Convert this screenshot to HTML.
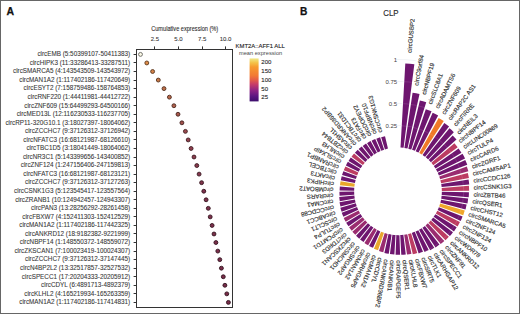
<!DOCTYPE html>
<html><head><meta charset="utf-8"><style>
html,body{margin:0;padding:0;background:#fff;}
body{width:520px;height:314px;overflow:hidden;}
svg{display:block;}
text{font-family:"Liberation Sans", sans-serif;}
</style></head><body>
<svg width="520" height="314" viewBox="0 0 520 314">
<rect x="0" y="0" width="520" height="314" fill="#fff"/>

<text x="6.5" y="14.6" font-size="10.5" font-weight="bold" fill="#111" stroke="#111" stroke-width="0.25">A</text>
<text x="0" y="0" font-size="7.5" fill="#2a2a2a" stroke="#2a2a2a" stroke-width="0.1" text-anchor="middle" transform="translate(184.7 31.4) scale(0.75 1)">Cumulative expression (%)</text>
<text x="154.80" y="41.3" font-size="6" fill="#333" stroke="#333" stroke-width="0.08" text-anchor="middle">2.5</text>
<line x1="154.50" y1="46.4" x2="154.50" y2="49.2" stroke="#333" stroke-width="1"/>
<text x="178.50" y="41.3" font-size="6" fill="#333" stroke="#333" stroke-width="0.08" text-anchor="middle">5.0</text>
<line x1="178.50" y1="46.4" x2="178.50" y2="49.2" stroke="#333" stroke-width="1"/>
<text x="202.10" y="41.3" font-size="6" fill="#333" stroke="#333" stroke-width="0.08" text-anchor="middle">7.5</text>
<line x1="202.50" y1="46.4" x2="202.50" y2="49.2" stroke="#333" stroke-width="1"/>
<text x="225.50" y="41.3" font-size="6" fill="#333" stroke="#333" stroke-width="0.08" text-anchor="middle">10.0</text>
<line x1="225.50" y1="46.4" x2="225.50" y2="49.2" stroke="#333" stroke-width="1"/>
<rect x="136.5" y="49.5" width="96" height="258" fill="none" stroke="#333" stroke-width="1"/>
<text x="130.2" y="56.20" font-size="6.33" fill="#363636" stroke="#363636" stroke-width="0.07" text-anchor="end">circEMB (5:50399107-50411383)</text>
<line x1="133.6" y1="54.50" x2="136.2" y2="54.50" stroke="#333" stroke-width="1"/>
<circle cx="140.50" cy="54.40" r="1.95" fill="#faf8e6" stroke="#646460" stroke-width="0.9"/>
<text x="130.2" y="64.75" font-size="6.33" fill="#363636" stroke="#363636" stroke-width="0.07" text-anchor="end">circHIPK3 (11:33286413-33287511)</text>
<line x1="133.6" y1="62.50" x2="136.2" y2="62.50" stroke="#333" stroke-width="1"/>
<circle cx="146.80" cy="62.95" r="1.95" fill="#de8c48" stroke="#5d3a1e" stroke-width="0.9"/>
<text x="130.2" y="73.30" font-size="6.33" fill="#363636" stroke="#363636" stroke-width="0.07" text-anchor="end">circSMARCA5 (4:143543509-143543972)</text>
<line x1="133.6" y1="71.50" x2="136.2" y2="71.50" stroke="#333" stroke-width="1"/>
<circle cx="152.60" cy="71.50" r="1.95" fill="#d38248" stroke="#58361e" stroke-width="0.9"/>
<text x="130.2" y="81.86" font-size="6.33" fill="#363636" stroke="#363636" stroke-width="0.07" text-anchor="end">circMAN1A2 (1:117402186-117420649)</text>
<line x1="133.6" y1="80.50" x2="136.2" y2="80.50" stroke="#333" stroke-width="1"/>
<circle cx="158.30" cy="80.06" r="1.95" fill="#c87848" stroke="#54321e" stroke-width="0.9"/>
<text x="130.2" y="90.41" font-size="6.33" fill="#363636" stroke="#363636" stroke-width="0.07" text-anchor="end">circESYT2 (7:158759486-158764853)</text>
<line x1="133.6" y1="88.50" x2="136.2" y2="88.50" stroke="#333" stroke-width="1"/>
<circle cx="164.00" cy="88.61" r="1.95" fill="#c07049" stroke="#502f1e" stroke-width="0.9"/>
<text x="130.2" y="98.96" font-size="6.33" fill="#363636" stroke="#363636" stroke-width="0.07" text-anchor="end">circRNF220 (1:44411981-44412722)</text>
<line x1="133.6" y1="97.50" x2="136.2" y2="97.50" stroke="#333" stroke-width="1"/>
<circle cx="169.40" cy="97.16" r="1.95" fill="#b8684b" stroke="#4d2b1f" stroke-width="0.9"/>
<text x="130.2" y="107.51" font-size="6.33" fill="#363636" stroke="#363636" stroke-width="0.07" text-anchor="end">circZNF609 (15:64499293-64500166)</text>
<line x1="133.6" y1="105.50" x2="136.2" y2="105.50" stroke="#333" stroke-width="1"/>
<circle cx="173.90" cy="105.71" r="1.95" fill="#b0604c" stroke="#49281f" stroke-width="0.9"/>
<text x="130.2" y="116.06" font-size="6.33" fill="#363636" stroke="#363636" stroke-width="0.07" text-anchor="end">circMED13L (12:116230533-116237705)</text>
<line x1="133.6" y1="114.50" x2="136.2" y2="114.50" stroke="#333" stroke-width="1"/>
<circle cx="178.00" cy="114.26" r="1.95" fill="#a8584c" stroke="#46241f" stroke-width="0.9"/>
<text x="130.2" y="124.61" font-size="6.33" fill="#363636" stroke="#363636" stroke-width="0.07" text-anchor="end">circRP11-320G10.1 (3:18027397-18064062)</text>
<line x1="133.6" y1="122.50" x2="136.2" y2="122.50" stroke="#333" stroke-width="1"/>
<circle cx="181.90" cy="122.81" r="1.95" fill="#a1514d" stroke="#432220" stroke-width="0.9"/>
<text x="130.2" y="133.17" font-size="6.33" fill="#363636" stroke="#363636" stroke-width="0.07" text-anchor="end">circZCCHC7 (9:37126312-37126942)</text>
<line x1="133.6" y1="131.50" x2="136.2" y2="131.50" stroke="#333" stroke-width="1"/>
<circle cx="185.40" cy="131.37" r="1.95" fill="#9a4a4e" stroke="#401f20" stroke-width="0.9"/>
<text x="130.2" y="141.72" font-size="6.33" fill="#363636" stroke="#363636" stroke-width="0.07" text-anchor="end">circNFATC3 (16:68121987-68126610)</text>
<line x1="133.6" y1="139.50" x2="136.2" y2="139.50" stroke="#333" stroke-width="1"/>
<circle cx="188.20" cy="139.92" r="1.95" fill="#92424e" stroke="#3d1b20" stroke-width="0.9"/>
<text x="130.2" y="150.27" font-size="6.33" fill="#363636" stroke="#363636" stroke-width="0.07" text-anchor="end">circTBC1D5 (3:18041449-18064062)</text>
<line x1="133.6" y1="148.50" x2="136.2" y2="148.50" stroke="#333" stroke-width="1"/>
<circle cx="191.10" cy="148.47" r="1.95" fill="#8f3f4e" stroke="#3c1a20" stroke-width="0.9"/>
<text x="130.2" y="158.82" font-size="6.33" fill="#363636" stroke="#363636" stroke-width="0.07" text-anchor="end">circNR3C1 (5:143399656-143400852)</text>
<line x1="133.6" y1="157.50" x2="136.2" y2="157.50" stroke="#333" stroke-width="1"/>
<circle cx="194.00" cy="157.02" r="1.95" fill="#8b3d4d" stroke="#3a1920" stroke-width="0.9"/>
<text x="130.2" y="167.37" font-size="6.33" fill="#363636" stroke="#363636" stroke-width="0.07" text-anchor="end">circZNF124 (1:247156406-247159813)</text>
<line x1="133.6" y1="165.50" x2="136.2" y2="165.50" stroke="#333" stroke-width="1"/>
<circle cx="196.80" cy="165.57" r="1.95" fill="#883a4d" stroke="#391820" stroke-width="0.9"/>
<text x="130.2" y="175.92" font-size="6.33" fill="#363636" stroke="#363636" stroke-width="0.07" text-anchor="end">circNFATC3 (16:68121987-68123121)</text>
<line x1="133.6" y1="174.50" x2="136.2" y2="174.50" stroke="#333" stroke-width="1"/>
<circle cx="199.10" cy="174.12" r="1.95" fill="#85374d" stroke="#371720" stroke-width="0.9"/>
<text x="130.2" y="184.48" font-size="6.33" fill="#363636" stroke="#363636" stroke-width="0.07" text-anchor="end">circZCCHC7 (9:37126312-37127263)</text>
<line x1="133.6" y1="182.50" x2="136.2" y2="182.50" stroke="#333" stroke-width="1"/>
<circle cx="201.60" cy="182.68" r="1.95" fill="#81354c" stroke="#36161f" stroke-width="0.9"/>
<text x="130.2" y="193.03" font-size="6.33" fill="#363636" stroke="#363636" stroke-width="0.07" text-anchor="end">circCSNK1G3 (5:123545417-123557564)</text>
<line x1="133.6" y1="191.50" x2="136.2" y2="191.50" stroke="#333" stroke-width="1"/>
<circle cx="203.80" cy="191.23" r="1.95" fill="#7e324c" stroke="#34151f" stroke-width="0.9"/>
<text x="130.2" y="201.58" font-size="6.33" fill="#363636" stroke="#363636" stroke-width="0.07" text-anchor="end">circZRANB1 (10:124942457-124943307)</text>
<line x1="133.6" y1="199.50" x2="136.2" y2="199.50" stroke="#333" stroke-width="1"/>
<circle cx="206.10" cy="199.78" r="1.95" fill="#7d324c" stroke="#34151f" stroke-width="0.9"/>
<text x="130.2" y="210.13" font-size="6.33" fill="#363636" stroke="#363636" stroke-width="0.07" text-anchor="end">circPAN3 (13:28256292-28261458)</text>
<line x1="133.6" y1="208.50" x2="136.2" y2="208.50" stroke="#333" stroke-width="1"/>
<circle cx="208.30" cy="208.33" r="1.95" fill="#7d314b" stroke="#34141f" stroke-width="0.9"/>
<text x="130.2" y="218.68" font-size="6.33" fill="#363636" stroke="#363636" stroke-width="0.07" text-anchor="end">circFBXW7 (4:152411303-152412529)</text>
<line x1="133.6" y1="216.50" x2="136.2" y2="216.50" stroke="#333" stroke-width="1"/>
<circle cx="210.20" cy="216.88" r="1.95" fill="#7c314b" stroke="#34141f" stroke-width="0.9"/>
<text x="130.2" y="227.23" font-size="6.33" fill="#363636" stroke="#363636" stroke-width="0.07" text-anchor="end">circMAN1A2 (1:117402186-117442325)</text>
<line x1="133.6" y1="225.50" x2="136.2" y2="225.50" stroke="#333" stroke-width="1"/>
<circle cx="212.10" cy="225.43" r="1.95" fill="#7c304b" stroke="#34141f" stroke-width="0.9"/>
<text x="130.2" y="235.79" font-size="6.33" fill="#363636" stroke="#363636" stroke-width="0.07" text-anchor="end">circANKRD12 (18:9182382-9221999)</text>
<line x1="133.6" y1="233.50" x2="136.2" y2="233.50" stroke="#333" stroke-width="1"/>
<circle cx="214.00" cy="233.99" r="1.95" fill="#7b304a" stroke="#33141f" stroke-width="0.9"/>
<text x="130.2" y="244.34" font-size="6.33" fill="#363636" stroke="#363636" stroke-width="0.07" text-anchor="end">circNBPF14 (1:148550372-148559072)</text>
<line x1="133.6" y1="242.50" x2="136.2" y2="242.50" stroke="#333" stroke-width="1"/>
<circle cx="215.90" cy="242.54" r="1.95" fill="#7a2f4a" stroke="#33131f" stroke-width="0.9"/>
<text x="130.2" y="252.89" font-size="6.33" fill="#363636" stroke="#363636" stroke-width="0.07" text-anchor="end">circZKSCAN1 (7:100023419-100024307)</text>
<line x1="133.6" y1="251.50" x2="136.2" y2="251.50" stroke="#333" stroke-width="1"/>
<circle cx="217.80" cy="251.09" r="1.95" fill="#7a2f4a" stroke="#33131f" stroke-width="0.9"/>
<text x="130.2" y="261.44" font-size="6.33" fill="#363636" stroke="#363636" stroke-width="0.07" text-anchor="end">circZCCHC7 (9:37126312-37147445)</text>
<line x1="133.6" y1="259.50" x2="136.2" y2="259.50" stroke="#333" stroke-width="1"/>
<circle cx="219.80" cy="259.64" r="1.95" fill="#792e4a" stroke="#32131f" stroke-width="0.9"/>
<text x="130.2" y="269.99" font-size="6.33" fill="#363636" stroke="#363636" stroke-width="0.07" text-anchor="end">circN4BP2L2 (13:32517857-32527532)</text>
<line x1="133.6" y1="268.50" x2="136.2" y2="268.50" stroke="#333" stroke-width="1"/>
<circle cx="221.40" cy="268.19" r="1.95" fill="#782e49" stroke="#32131e" stroke-width="0.9"/>
<text x="130.2" y="278.54" font-size="6.33" fill="#363636" stroke="#363636" stroke-width="0.07" text-anchor="end">circSPECC1 (17:20204333-20205912)</text>
<line x1="133.6" y1="276.50" x2="136.2" y2="276.50" stroke="#333" stroke-width="1"/>
<circle cx="223.30" cy="276.74" r="1.95" fill="#782d49" stroke="#32121e" stroke-width="0.9"/>
<text x="130.2" y="287.10" font-size="6.33" fill="#363636" stroke="#363636" stroke-width="0.07" text-anchor="end">circCDYL (6:4891713-4892379)</text>
<line x1="133.6" y1="285.50" x2="136.2" y2="285.50" stroke="#333" stroke-width="1"/>
<circle cx="224.90" cy="285.30" r="1.95" fill="#772d49" stroke="#31121e" stroke-width="0.9"/>
<text x="130.2" y="295.65" font-size="6.33" fill="#363636" stroke="#363636" stroke-width="0.07" text-anchor="end">circKLHL2 (4:165219934-165263359)</text>
<line x1="133.6" y1="293.50" x2="136.2" y2="293.50" stroke="#333" stroke-width="1"/>
<circle cx="226.80" cy="293.85" r="1.95" fill="#772c48" stroke="#31121e" stroke-width="0.9"/>
<text x="130.2" y="304.20" font-size="6.33" fill="#363636" stroke="#363636" stroke-width="0.07" text-anchor="end">circMAN1A2 (1:117402186-117414831)</text>
<line x1="133.6" y1="302.50" x2="136.2" y2="302.50" stroke="#333" stroke-width="1"/>
<circle cx="228.40" cy="302.40" r="1.95" fill="#762c48" stroke="#31121e" stroke-width="0.9"/>
<text x="235.6" y="47.7" font-size="5.9" fill="#222" stroke="#222" stroke-width="0.12">KMT2A::AFF1 ALL</text>
<text x="238.9" y="54.9" font-size="5.7" fill="#4a4a4a">mean expression</text>
<defs><linearGradient id="cb" x1="0" y1="1" x2="0" y2="0">
<stop offset="0" stop-color="#3c0e6c"/>
<stop offset="0.12" stop-color="#5c1682"/>
<stop offset="0.26" stop-color="#902484"/>
<stop offset="0.40" stop-color="#c83c68"/>
<stop offset="0.50" stop-color="#e45c48"/>
<stop offset="0.60" stop-color="#f27a34"/>
<stop offset="0.80" stop-color="#f79a2e"/>
<stop offset="0.90" stop-color="#f4c248"/>
<stop offset="1" stop-color="#efe98a"/>
</linearGradient></defs>
<rect x="249.6" y="58.4" width="9" height="43" fill="url(#cb)"/>
<text x="261.3" y="63.50" font-size="6" fill="#2a2a2a" stroke="#2a2a2a" stroke-width="0.12">200</text>
<text x="261.3" y="73.00" font-size="6" fill="#2a2a2a" stroke="#2a2a2a" stroke-width="0.12">150</text>
<text x="261.3" y="82.30" font-size="6" fill="#2a2a2a" stroke="#2a2a2a" stroke-width="0.12">100</text>
<text x="261.3" y="91.00" font-size="6" fill="#2a2a2a" stroke="#2a2a2a" stroke-width="0.12">50</text>
<text x="261.3" y="98.80" font-size="6" fill="#2a2a2a" stroke="#2a2a2a" stroke-width="0.12">25</text>
<text x="300.0" y="14.6" font-size="10.2" font-weight="bold" fill="#111" stroke="#111" stroke-width="0.25">B</text>
<text x="0" y="0" font-size="8.6" fill="#2a2a2a" stroke="#2a2a2a" stroke-width="0.15" text-anchor="middle" transform="translate(390.9 15.75) scale(0.92 1)">CLP</text>
<path d="M400.50,147.52 L405.30,63.44 A128.07,128.07 0 0 1 414.34,64.28 L403.60,147.81 A43.85,43.85 0 0 0 400.50,147.52Z" fill="#6e166f"/>
<path d="M404.41,147.92 L412.57,92.78 A99.59,99.59 0 0 1 419.51,94.06 L407.47,148.49 A43.85,43.85 0 0 0 404.41,147.92Z" fill="#6e166f"/>
<path d="M408.28,148.67 L419.87,100.58 A93.32,93.32 0 0 1 426.24,102.35 L411.27,149.51 A43.85,43.85 0 0 0 408.28,148.67Z" fill="#6e166f"/>
<path d="M412.06,149.76 L425.79,109.17 A86.70,86.70 0 0 1 431.54,111.35 L414.96,150.86 A43.85,43.85 0 0 0 412.06,149.76Z" fill="#6e166f"/>
<path d="M415.72,151.19 L432.66,112.87 A85.74,85.74 0 0 1 438.13,115.53 L418.52,152.55 A43.85,43.85 0 0 0 415.72,151.19Z" fill="#6e166f"/>
<path d="M419.25,152.94 L438.65,117.92 A83.89,83.89 0 0 1 443.74,120.98 L421.91,154.54 A43.85,43.85 0 0 0 419.25,152.94Z" fill="#f07a28"/>
<path d="M422.60,155.00 L444.33,122.94 A82.58,82.58 0 0 1 449.06,126.39 L425.11,156.83 A43.85,43.85 0 0 0 422.60,155.00Z" fill="#6e166f"/>
<path d="M425.76,157.35 L449.48,128.33 A81.34,81.34 0 0 1 453.82,132.14 L428.09,159.40 A43.85,43.85 0 0 0 425.76,157.35Z" fill="#6e166f"/>
<path d="M428.69,159.98 L452.68,135.48 A78.14,78.14 0 0 1 456.50,139.50 L430.83,162.23 A43.85,43.85 0 0 0 428.69,159.98Z" fill="#6e166f"/>
<path d="M431.37,162.85 L454.42,143.21 A74.13,74.13 0 0 1 457.68,147.33 L433.30,165.29 A43.85,43.85 0 0 0 431.37,162.85Z" fill="#bc3c62"/>
<path d="M433.79,165.96 L458.57,148.41 A74.21,74.21 0 0 1 461.45,152.81 L435.49,168.56 A43.85,43.85 0 0 0 433.79,165.96Z" fill="#6e166f"/>
<path d="M435.91,169.27 L462.54,153.80 A74.65,74.65 0 0 1 465.04,158.46 L437.38,172.01 A43.85,43.85 0 0 0 435.91,169.27Z" fill="#6e166f"/>
<path d="M437.74,172.76 L465.25,159.92 A74.21,74.21 0 0 1 467.30,164.76 L438.95,175.62 A43.85,43.85 0 0 0 437.74,172.76Z" fill="#6e166f"/>
<path d="M439.24,176.39 L466.81,166.43 A73.16,73.16 0 0 1 468.39,171.37 L440.19,179.35 A43.85,43.85 0 0 0 439.24,176.39Z" fill="#9a2c70"/>
<path d="M440.41,180.15 L467.81,172.94 A72.19,72.19 0 0 1 468.94,177.94 L441.09,183.18 A43.85,43.85 0 0 0 440.41,180.15Z" fill="#bc3c62"/>
<path d="M441.24,184.00 L468.57,179.38 A71.57,71.57 0 0 1 469.23,184.41 L441.65,187.08 A43.85,43.85 0 0 0 441.24,184.00Z" fill="#6e166f"/>
<path d="M441.72,187.90 L468.92,185.79 A71.13,71.13 0 0 1 469.13,190.82 L441.85,191.01 A43.85,43.85 0 0 0 441.72,187.90Z" fill="#bc3c62"/>
<path d="M441.85,191.83 L468.94,192.16 A70.95,70.95 0 0 1 468.70,197.19 L441.70,194.94 A43.85,43.85 0 0 0 441.85,191.83Z" fill="#6e166f"/>
<path d="M441.62,195.76 L468.16,198.48 A70.52,70.52 0 0 1 467.47,203.43 L441.20,198.84 A43.85,43.85 0 0 0 441.62,195.76Z" fill="#6e166f"/>
<path d="M441.05,199.65 L466.62,204.62 A69.90,69.90 0 0 1 465.51,209.45 L440.35,202.68 A43.85,43.85 0 0 0 441.05,199.65Z" fill="#6e166f"/>
<path d="M440.12,203.48 L464.75,210.60 A69.48,69.48 0 0 1 463.21,215.28 L439.16,206.43 A43.85,43.85 0 0 0 440.12,203.48Z" fill="#f0a62a"/>
<path d="M438.86,207.21 L462.61,216.45 A69.33,69.33 0 0 1 460.67,220.96 L437.63,210.06 A43.85,43.85 0 0 0 438.86,207.21Z" fill="#6e166f"/>
<path d="M437.27,210.81 L459.95,222.07 A69.17,69.17 0 0 1 457.61,226.38 L435.79,213.54 A43.85,43.85 0 0 0 437.27,210.81Z" fill="#bc3c62"/>
<path d="M435.37,214.25 L456.68,227.34 A68.87,68.87 0 0 1 453.98,231.41 L433.65,216.84 A43.85,43.85 0 0 0 435.37,214.25Z" fill="#6e166f"/>
<path d="M433.16,217.50 L452.98,232.27 A68.56,68.56 0 0 1 449.93,236.07 L431.21,219.93 A43.85,43.85 0 0 0 433.16,217.50Z" fill="#6e166f"/>
<path d="M430.67,220.55 L448.84,236.82 A68.24,68.24 0 0 1 445.49,240.31 L428.51,222.79 A43.85,43.85 0 0 0 430.67,220.55Z" fill="#bc3c62"/>
<path d="M427.92,223.36 L444.33,240.95 A67.91,67.91 0 0 1 440.70,244.11 L425.57,225.40 A43.85,43.85 0 0 0 427.92,223.36Z" fill="#9a2c70"/>
<path d="M424.92,225.91 L439.45,244.59 A67.51,67.51 0 0 1 435.57,247.39 L422.40,227.73 A43.85,43.85 0 0 0 424.92,225.91Z" fill="#6e166f"/>
<path d="M421.71,228.19 L434.26,247.71 A67.06,67.06 0 0 1 430.17,250.14 L419.04,229.77 A43.85,43.85 0 0 0 421.71,228.19Z" fill="#6e166f"/>
<path d="M418.31,230.16 L428.72,250.09 A66.33,66.33 0 0 1 424.48,252.12 L415.50,231.51 A43.85,43.85 0 0 0 418.31,230.16Z" fill="#6e166f"/>
<path d="M414.74,231.83 L423.00,251.82 A65.48,65.48 0 0 1 418.65,253.44 L411.83,232.91 A43.85,43.85 0 0 0 414.74,231.83Z" fill="#6e166f"/>
<path d="M411.04,233.17 L417.25,253.09 A64.72,64.72 0 0 1 412.82,254.30 L408.04,233.98 A43.85,43.85 0 0 0 411.04,233.17Z" fill="#bc3c62"/>
<path d="M407.24,234.17 L411.47,253.83 A63.96,63.96 0 0 1 407.01,254.62 L404.18,234.71 A43.85,43.85 0 0 0 407.24,234.17Z" fill="#9a2c70"/>
<path d="M403.36,234.82 L405.77,254.40 A63.58,63.58 0 0 1 401.28,254.79 L400.26,235.09 A43.85,43.85 0 0 0 403.36,234.82Z" fill="#6e166f"/>
<path d="M399.43,235.13 L400.08,254.72 A63.45,63.45 0 0 1 395.58,254.71 L396.33,235.12 A43.85,43.85 0 0 0 399.43,235.13Z" fill="#6e166f"/>
<path d="M395.50,235.08 L394.39,254.50 A63.31,63.31 0 0 1 389.92,254.09 L392.40,234.79 A43.85,43.85 0 0 0 395.50,235.08Z" fill="#6e166f"/>
<path d="M391.59,234.68 L388.77,253.74 A63.12,63.12 0 0 1 384.37,252.93 L388.53,234.11 A43.85,43.85 0 0 0 391.59,234.68Z" fill="#6e166f"/>
<path d="M387.72,233.93 L383.29,252.32 A62.77,62.77 0 0 1 379.00,251.12 L384.73,233.09 A43.85,43.85 0 0 0 387.72,233.93Z" fill="#9a2c70"/>
<path d="M383.94,232.84 L378.05,250.25 A62.23,62.23 0 0 1 373.92,248.68 L381.04,231.74 A43.85,43.85 0 0 0 383.94,232.84Z" fill="#e9a62e"/>
<path d="M380.28,231.41 L373.02,247.84 A61.81,61.81 0 0 1 369.07,245.93 L377.48,230.05 A43.85,43.85 0 0 0 380.28,231.41Z" fill="#6e166f"/>
<path d="M376.75,229.66 L368.15,245.18 A61.60,61.60 0 0 1 364.41,242.93 L374.09,228.06 A43.85,43.85 0 0 0 376.75,229.66Z" fill="#9a2c70"/>
<path d="M373.40,227.60 L363.56,242.11 A61.38,61.38 0 0 1 360.05,239.54 L370.89,225.77 A43.85,43.85 0 0 0 373.40,227.60Z" fill="#6e166f"/>
<path d="M370.24,225.25 L359.29,238.65 A61.17,61.17 0 0 1 356.03,235.79 L367.91,223.20 A43.85,43.85 0 0 0 370.24,225.25Z" fill="#6e166f"/>
<path d="M367.31,222.62 L355.34,234.85 A60.96,60.96 0 0 1 352.36,231.72 L365.17,220.37 A43.85,43.85 0 0 0 367.31,222.62Z" fill="#9a2c70"/>
<path d="M364.63,219.75 L351.74,230.74 A60.79,60.79 0 0 1 349.06,227.36 L362.70,217.31 A43.85,43.85 0 0 0 364.63,219.75Z" fill="#9a2c70"/>
<path d="M362.21,216.64 L348.53,226.33 A60.62,60.62 0 0 1 346.17,222.74 L360.51,214.04 A43.85,43.85 0 0 0 362.21,216.64Z" fill="#6e166f"/>
<path d="M360.09,213.33 L345.73,221.67 A60.45,60.45 0 0 1 343.71,217.89 L358.62,210.59 A43.85,43.85 0 0 0 360.09,213.33Z" fill="#9a2c70"/>
<path d="M358.26,209.84 L343.37,216.79 A60.28,60.28 0 0 1 341.70,212.86 L357.05,206.98 A43.85,43.85 0 0 0 358.26,209.84Z" fill="#6e166f"/>
<path d="M356.76,206.21 L341.63,211.68 A59.94,59.94 0 0 1 340.33,207.63 L355.81,203.25 A43.85,43.85 0 0 0 356.76,206.21Z" fill="#6e166f"/>
<path d="M355.59,202.45 L340.47,206.43 A59.49,59.49 0 0 1 339.54,202.31 L354.91,199.42 A43.85,43.85 0 0 0 355.59,202.45Z" fill="#6e166f"/>
<path d="M354.76,198.60 L339.79,201.13 A59.04,59.04 0 0 1 339.24,196.98 L354.35,195.52 A43.85,43.85 0 0 0 354.76,198.60Z" fill="#6e166f"/>
<path d="M354.28,194.70 L339.59,195.84 A58.58,58.58 0 0 1 339.42,191.69 L354.15,191.59 A43.85,43.85 0 0 0 354.28,194.70Z" fill="#6e166f"/>
<path d="M354.15,190.77 L339.65,190.59 A58.35,58.35 0 0 1 339.85,186.46 L354.30,187.66 A43.85,43.85 0 0 0 354.15,190.77Z" fill="#6e166f"/>
<path d="M354.38,186.84 L339.98,185.37 A58.32,58.32 0 0 1 340.55,181.27 L354.80,183.76 A43.85,43.85 0 0 0 354.38,186.84Z" fill="#e9a82a"/>
<path d="M354.95,182.95 L340.78,180.20 A58.29,58.29 0 0 1 341.71,176.17 L355.65,179.92 A43.85,43.85 0 0 0 354.95,182.95Z" fill="#6e166f"/>
<path d="M355.88,179.12 L342.04,175.12 A58.25,58.25 0 0 1 343.33,171.20 L356.84,176.17 A43.85,43.85 0 0 0 355.88,179.12Z" fill="#6e166f"/>
<path d="M357.14,175.39 L343.75,170.18 A58.22,58.22 0 0 1 345.38,166.39 L358.37,172.54 A43.85,43.85 0 0 0 357.14,175.39Z" fill="#bc3c62"/>
<path d="M358.73,171.79 L345.91,165.43 A58.16,58.16 0 0 1 347.87,161.80 L360.21,169.06 A43.85,43.85 0 0 0 358.73,171.79Z" fill="#6e166f"/>
<path d="M360.63,168.35 L348.53,160.92 A58.06,58.06 0 0 1 350.80,157.49 L362.35,165.76 A43.85,43.85 0 0 0 360.63,168.35Z" fill="#6e166f"/>
<path d="M362.84,165.10 L351.54,156.67 A57.95,57.95 0 0 1 354.11,153.47 L364.79,162.67 A43.85,43.85 0 0 0 362.84,165.10Z" fill="#bc3c62"/>
<path d="M365.33,162.05 L354.91,152.72 A57.84,57.84 0 0 1 357.75,149.76 L367.49,159.81 A43.85,43.85 0 0 0 365.33,162.05Z" fill="#6e166f"/>
<path d="M368.08,159.24 L358.63,149.11 A57.71,57.71 0 0 1 361.72,146.42 L370.43,157.20 A43.85,43.85 0 0 0 368.08,159.24Z" fill="#6e166f"/>
<path d="M371.08,156.69 L362.72,145.94 A57.47,57.47 0 0 1 366.02,143.55 L373.60,154.87 A43.85,43.85 0 0 0 371.08,156.69Z" fill="#6e166f"/>
<path d="M374.29,154.41 L367.06,143.16 A57.22,57.22 0 0 1 370.55,141.09 L376.96,152.83 A43.85,43.85 0 0 0 374.29,154.41Z" fill="#6e166f"/>
<path d="M377.69,152.44 L371.60,140.78 A57.00,57.00 0 0 1 375.25,139.04 L380.50,151.09 A43.85,43.85 0 0 0 377.69,152.44Z" fill="#6e166f"/>
<path d="M381.26,150.77 L376.30,138.78 A56.83,56.83 0 0 1 380.08,137.37 L384.17,149.69 A43.85,43.85 0 0 0 381.26,150.77Z" fill="#6e166f"/>
<path d="M384.96,149.43 L381.15,137.21 A56.65,56.65 0 0 1 385.02,136.15 L387.96,148.62 A43.85,43.85 0 0 0 384.96,149.43Z" fill="#6e166f"/>
<circle cx="398.0" cy="191.3" r="65.85" fill="none" stroke="#fff" stroke-opacity="0.22" stroke-width="0.5"/>
<circle cx="398.0" cy="191.3" r="87.85" fill="none" stroke="#fff" stroke-opacity="0.22" stroke-width="0.5"/>
<circle cx="398.0" cy="191.3" r="109.85" fill="none" stroke="#fff" stroke-opacity="0.22" stroke-width="0.5"/>
<circle cx="398.0" cy="191.3" r="131.85" fill="none" stroke="#fff" stroke-opacity="0.22" stroke-width="0.5"/>
<path d="M396.85,125.46 A65.85,65.85 0 0 1 401.45,125.54" fill="none" stroke="#e2e6ec" stroke-width="0.5"/>
<path d="M396.47,103.46 A87.85,87.85 0 0 1 402.60,103.57" fill="none" stroke="#e2e6ec" stroke-width="0.5"/>
<path d="M396.08,81.47 A109.85,109.85 0 0 1 403.75,81.60" fill="none" stroke="#e2e6ec" stroke-width="0.5"/>
<path d="M395.70,59.47 A131.85,131.85 0 0 1 416.35,60.73" fill="none" stroke="#e2e6ec" stroke-width="0.5"/>
<text x="397.2" y="61.55" font-size="6" fill="#444" text-anchor="end">1</text>
<text x="397.2" y="83.55" font-size="6" fill="#444" text-anchor="end">0.75</text>
<text x="397.2" y="105.55" font-size="6" fill="#444" text-anchor="end">0.5</text>
<text x="397.2" y="127.55" font-size="6" fill="#444" text-anchor="end">0.25</text>
<text x="0" y="0" dy="1.0" font-size="6.1" fill="#2e2e2e" stroke="#2e2e2e" stroke-width="0.14" transform="translate(410.50 52.86) rotate(-84.70)">circGUSBP2</text>
<text x="0" y="0" dy="1.0" font-size="6.1" fill="#2e2e2e" stroke="#2e2e2e" stroke-width="0.14" transform="translate(417.16 85.76) rotate(-79.56)">circC9orf84</text>
<text x="0" y="0" dy="1.0" font-size="6.1" fill="#2e2e2e" stroke="#2e2e2e" stroke-width="0.14" transform="translate(424.72 94.67) rotate(-74.41)">circNBPF19</text>
<text x="0" y="0" dy="1.0" font-size="6.1" fill="#2e2e2e" stroke="#2e2e2e" stroke-width="0.14" transform="translate(430.72 104.39) rotate(-69.27)">circSLC8A1</text>
<text x="0" y="0" dy="1.0" font-size="6.1" fill="#2e2e2e" stroke="#2e2e2e" stroke-width="0.14" transform="translate(437.96 108.67) rotate(-64.13)">circADAMTS6</text>
<text x="0" y="0" dy="1.0" font-size="6.1" fill="#2e2e2e" stroke="#2e2e2e" stroke-width="0.14" transform="translate(444.20 114.39) rotate(-58.99)">circZNF609</text>
<text x="0" y="0" dy="1.0" font-size="6.1" fill="#2e2e2e" stroke="#2e2e2e" stroke-width="0.14" transform="translate(450.10 120.06) rotate(-53.84)">circRAP2C AS1</text>
<text x="0" y="0" dy="1.0" font-size="6.1" fill="#2e2e2e" stroke="#2e2e2e" stroke-width="0.14" transform="translate(455.41 126.09) rotate(-48.70)">circFIRRE</text>
<text x="0" y="0" dy="1.0" font-size="6.1" fill="#2e2e2e" stroke="#2e2e2e" stroke-width="0.14" transform="translate(458.50 133.99) rotate(-43.56)">circNEIL3</text>
<text x="0" y="0" dy="1.0" font-size="6.1" fill="#2e2e2e" stroke="#2e2e2e" stroke-width="0.14" transform="translate(459.95 142.46) rotate(-38.41)">circNBPF14</text>
<text x="0" y="0" dy="1.0" font-size="6.1" fill="#2e2e2e" stroke="#2e2e2e" stroke-width="0.14" transform="translate(464.20 148.20) rotate(-33.27)">circLINC00869</text>
<text x="0" y="0" dy="1.0" font-size="6.1" fill="#2e2e2e" stroke="#2e2e2e" stroke-width="0.14" transform="translate(468.28 154.11) rotate(-28.13)">circTULP4</text>
<text x="0" y="0" dy="1.0" font-size="6.1" fill="#2e2e2e" stroke="#2e2e2e" stroke-width="0.14" transform="translate(470.93 160.79) rotate(-22.99)">circCARD6</text>
<text x="0" y="0" dy="1.0" font-size="6.1" fill="#2e2e2e" stroke="#2e2e2e" stroke-width="0.14" transform="translate(472.32 167.85) rotate(-17.84)">circZGRF1</text>
<text x="0" y="0" dy="1.0" font-size="6.1" fill="#2e2e2e" stroke="#2e2e2e" stroke-width="0.14" transform="translate(473.11 174.88) rotate(-12.70)">circCAMSAP1</text>
<text x="0" y="0" dy="1.0" font-size="6.1" fill="#2e2e2e" stroke="#2e2e2e" stroke-width="0.14" transform="translate(473.65 181.81) rotate(-7.56)">circCCDC126</text>
<text x="0" y="0" dy="1.0" font-size="6.1" fill="#2e2e2e" stroke="#2e2e2e" stroke-width="0.14" transform="translate(473.76 188.69) rotate(-2.41)">circCSNK1G3</text>
<text x="0" y="0" dy="1.0" font-size="6.1" fill="#2e2e2e" stroke="#2e2e2e" stroke-width="0.14" transform="translate(473.54 195.52) rotate(2.73)">circZBTB46</text>
<text x="0" y="0" dy="1.0" font-size="6.1" fill="#2e2e2e" stroke="#2e2e2e" stroke-width="0.14" transform="translate(472.44 202.25) rotate(7.87)">circQSER1</text>
<text x="0" y="0" dy="1.0" font-size="6.1" fill="#2e2e2e" stroke="#2e2e2e" stroke-width="0.14" transform="translate(470.58 208.77) rotate(13.01)">circCHST12</text>
<text x="0" y="0" dy="1.0" font-size="6.1" fill="#2e2e2e" stroke="#2e2e2e" stroke-width="0.14" transform="translate(468.37 215.11) rotate(18.16)">circSMARCA5</text>
<text x="0" y="0" dy="1.0" font-size="6.1" fill="#2e2e2e" stroke="#2e2e2e" stroke-width="0.14" transform="translate(465.87 221.30) rotate(23.30)">circZNF124</text>
<text x="0" y="0" dy="1.0" font-size="6.1" fill="#2e2e2e" stroke="#2e2e2e" stroke-width="0.14" transform="translate(462.82 227.22) rotate(28.44)">circZNF124</text>
<text x="0" y="0" dy="1.0" font-size="6.1" fill="#2e2e2e" stroke="#2e2e2e" stroke-width="0.14" transform="translate(459.14 232.76) rotate(33.59)">circNBPF10</text>
<text x="0" y="0" dy="1.0" font-size="6.1" fill="#2e2e2e" stroke="#2e2e2e" stroke-width="0.14" transform="translate(454.99 237.92) rotate(38.73)">circWDR78</text>
<text x="0" y="0" dy="1.0" font-size="6.1" fill="#2e2e2e" stroke="#2e2e2e" stroke-width="0.14" transform="translate(450.40 242.66) rotate(43.87)">circANKRD12</text>
<text x="0" y="0" dy="1.0" font-size="6.1" fill="#2e2e2e" stroke="#2e2e2e" stroke-width="0.14" transform="translate(445.42 246.94) rotate(49.01)">circZNF91</text>
<text x="0" y="0" dy="1.0" font-size="6.1" fill="#2e2e2e" stroke="#2e2e2e" stroke-width="0.14" transform="translate(440.06 250.68) rotate(54.16)">circSPECC1</text>
<text x="0" y="0" dy="1.0" font-size="6.1" fill="#2e2e2e" stroke="#2e2e2e" stroke-width="0.14" transform="translate(434.39 253.86) rotate(59.30)">circARHGAP12</text>
<text x="0" y="0" dy="1.0" font-size="6.1" fill="#2e2e2e" stroke="#2e2e2e" stroke-width="0.14" transform="translate(428.37 256.25) rotate(64.44)">circTLK1</text>
<text x="0" y="0" dy="1.0" font-size="6.1" fill="#2e2e2e" stroke="#2e2e2e" stroke-width="0.14" transform="translate(422.18 257.95) rotate(69.59)">circSIRT5</text>
<text x="0" y="0" dy="1.0" font-size="6.1" fill="#2e2e2e" stroke="#2e2e2e" stroke-width="0.14" transform="translate(415.96 259.15) rotate(74.73)">circFBXW7</text>
<text x="0" y="0" dy="1.0" font-size="6.1" fill="#2e2e2e" stroke="#2e2e2e" stroke-width="0.14" transform="translate(409.73 259.79) rotate(79.87)">circKLHL8</text>
<text x="0" y="0" dy="1.0" font-size="6.1" fill="#2e2e2e" stroke="#2e2e2e" stroke-width="0.14" transform="translate(403.56 260.22) rotate(85.01)">circQSER1</text>
<text x="0" y="0" dy="1.0" font-size="6.1" fill="#2e2e2e" stroke="#2e2e2e" stroke-width="0.14" transform="translate(397.41 260.36) rotate(90.16)">circRAPGEF5</text>
<text x="0" y="0" dy="1.0" font-size="6.1" fill="#2e2e2e" stroke="#2e2e2e" stroke-width="0.14" transform="translate(391.28 260.00) rotate(95.30)">circANKIB1</text>
<text x="0" y="0" dy="1.0" font-size="6.1" fill="#2e2e2e" stroke="#2e2e2e" stroke-width="0.14" transform="translate(385.22 259.06) rotate(100.44)">circANKRD36BP2</text>
<text x="0" y="0" dy="1.0" font-size="6.1" fill="#2e2e2e" stroke="#2e2e2e" stroke-width="0.14" transform="translate(379.33 257.41) rotate(105.59)">circCDYL</text>
<text x="0" y="0" dy="1.0" font-size="6.1" fill="#2e2e2e" stroke="#2e2e2e" stroke-width="0.14" transform="translate(373.69 255.08) rotate(110.73)">circMAN1A2</text>
<text x="0" y="0" dy="1.0" font-size="6.1" fill="#2e2e2e" stroke="#2e2e2e" stroke-width="0.14" transform="translate(368.28 252.37) rotate(115.87)">circARHGAP5</text>
<text x="0" y="0" dy="1.0" font-size="6.1" fill="#2e2e2e" stroke="#2e2e2e" stroke-width="0.14" transform="translate(363.05 249.37) rotate(121.01)">circMAN1A2</text>
<text x="0" y="0" dy="1.0" font-size="6.1" fill="#2e2e2e" stroke="#2e2e2e" stroke-width="0.14" transform="translate(358.12 245.92) rotate(126.16)">circSRGAP2</text>
<text x="0" y="0" dy="1.0" font-size="6.1" fill="#2e2e2e" stroke="#2e2e2e" stroke-width="0.14" transform="translate(353.54 242.05) rotate(131.30)">circSMCHD1</text>
<text x="0" y="0" dy="1.0" font-size="6.1" fill="#2e2e2e" stroke="#2e2e2e" stroke-width="0.14" transform="translate(349.33 237.80) rotate(136.44)">circZKSCAN1</text>
<text x="0" y="0" dy="1.0" font-size="6.1" fill="#2e2e2e" stroke="#2e2e2e" stroke-width="0.14" transform="translate(345.50 233.22) rotate(141.59)">circTDRD3</text>
<text x="0" y="0" dy="1.0" font-size="6.1" fill="#2e2e2e" stroke="#2e2e2e" stroke-width="0.14" transform="translate(342.10 228.31) rotate(146.73)">circPCMTD1</text>
<text x="0" y="0" dy="1.0" font-size="6.1" fill="#2e2e2e" stroke="#2e2e2e" stroke-width="0.14" transform="translate(339.18 223.13) rotate(151.87)">circTULP4</text>
<text x="0" y="0" dy="1.0" font-size="6.1" fill="#2e2e2e" stroke="#2e2e2e" stroke-width="0.14" transform="translate(336.74 217.72) rotate(157.01)">circSCLT1</text>
<text x="0" y="0" dy="1.0" font-size="6.1" fill="#2e2e2e" stroke="#2e2e2e" stroke-width="0.14" transform="translate(334.97 212.06) rotate(162.16)">circABCC1</text>
<text x="0" y="0" dy="1.0" font-size="6.1" fill="#2e2e2e" stroke="#2e2e2e" stroke-width="0.14" transform="translate(333.83 206.27) rotate(167.30)">circCCDC88</text>
<text x="0" y="0" dy="1.0" font-size="6.1" fill="#2e2e2e" stroke="#2e2e2e" stroke-width="0.14" transform="translate(333.24 200.44) rotate(172.44)">circCMA1</text>
<text x="0" y="0" dy="1.0" font-size="6.1" fill="#2e2e2e" stroke="#2e2e2e" stroke-width="0.14" transform="translate(333.18 194.62) rotate(177.59)">circRARS</text>
<text x="0" y="0" dy="1.0" font-size="6.1" fill="#2e2e2e" stroke="#2e2e2e" stroke-width="0.14" transform="translate(333.42 188.84) rotate(182.73)">circMBOAT2</text>
<text x="0" y="0" dy="1.0" font-size="6.1" fill="#2e2e2e" stroke="#2e2e2e" stroke-width="0.14" transform="translate(333.99 183.11) rotate(187.87)">circHIPK3</text>
<text x="0" y="0" dy="1.0" font-size="6.1" fill="#2e2e2e" stroke="#2e2e2e" stroke-width="0.14" transform="translate(335.09 177.45) rotate(193.01)">circAKT3</text>
<text x="0" y="0" dy="1.0" font-size="6.1" fill="#2e2e2e" stroke="#2e2e2e" stroke-width="0.14" transform="translate(336.69 171.92) rotate(198.16)">circTBCEL</text>
<text x="0" y="0" dy="1.0" font-size="6.1" fill="#2e2e2e" stroke="#2e2e2e" stroke-width="0.14" transform="translate(338.78 166.57) rotate(203.30)">circRANBP1</text>
<text x="0" y="0" dy="1.0" font-size="6.1" fill="#2e2e2e" stroke="#2e2e2e" stroke-width="0.14" transform="translate(341.36 161.44) rotate(208.44)">circSLX4IP</text>
<text x="0" y="0" dy="1.0" font-size="6.1" fill="#2e2e2e" stroke="#2e2e2e" stroke-width="0.14" transform="translate(344.45 156.60) rotate(213.59)">circMLH3</text>
<text x="0" y="0" dy="1.0" font-size="6.1" fill="#2e2e2e" stroke="#2e2e2e" stroke-width="0.14" transform="translate(347.95 152.08) rotate(218.73)">circZBTB44</text>
<text x="0" y="0" dy="1.0" font-size="6.1" fill="#2e2e2e" stroke="#2e2e2e" stroke-width="0.14" transform="translate(351.83 147.90) rotate(223.87)">circASH1L</text>
<text x="0" y="0" dy="1.0" font-size="6.1" fill="#2e2e2e" stroke="#2e2e2e" stroke-width="0.14" transform="translate(356.09 144.12) rotate(229.01)">circANKRD36BP2</text>
<text x="0" y="0" dy="1.0" font-size="6.1" fill="#2e2e2e" stroke="#2e2e2e" stroke-width="0.14" transform="translate(360.71 140.84) rotate(234.16)">circTBC1D31</text>
<text x="0" y="0" dy="1.0" font-size="6.1" fill="#2e2e2e" stroke="#2e2e2e" stroke-width="0.14" transform="translate(365.60 138.00) rotate(239.30)">circFAT3</text>
<text x="0" y="0" dy="1.0" font-size="6.1" fill="#2e2e2e" stroke="#2e2e2e" stroke-width="0.14" transform="translate(370.68 135.62) rotate(244.44)">circDOPEY2</text>
<text x="0" y="0" dy="1.0" font-size="6.1" fill="#2e2e2e" stroke="#2e2e2e" stroke-width="0.14" transform="translate(375.92 133.66) rotate(249.59)">circNBPF10</text>
<text x="0" y="0" dy="1.0" font-size="6.1" fill="#2e2e2e" stroke="#2e2e2e" stroke-width="0.14" transform="translate(381.30 132.20) rotate(254.73)">circCSNK1G3</text>
<rect x="0.5" y="0.5" width="519" height="313" fill="none" stroke="#666" stroke-width="1"/>
</svg></body></html>
